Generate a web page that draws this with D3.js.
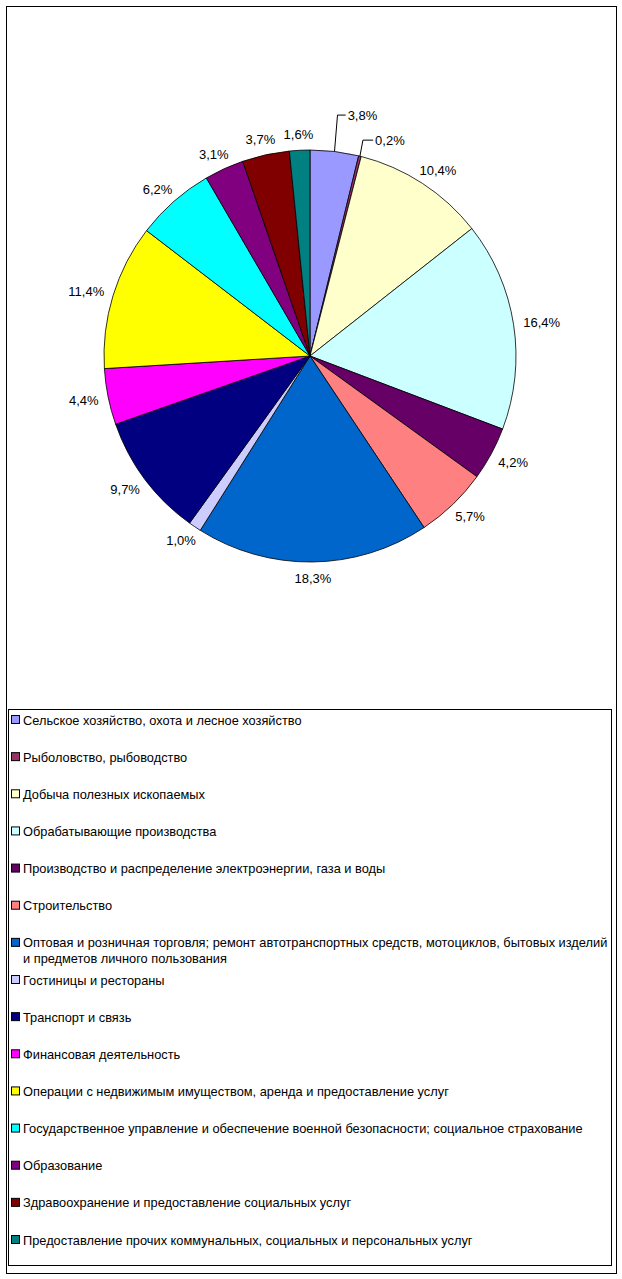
<!DOCTYPE html>
<html><head><meta charset="utf-8">
<script src="https://cdn.jsdelivr.net/npm/d3@7/dist/d3.min.js"></script>
<style>
html,body{margin:0;padding:0;background:#fff;}
svg{display:block;}
text{font-family:"Liberation Sans",Arial,sans-serif;}
</style></head>
<body>
<svg id="chart" width="622" height="1279"></svg>
<script>
const categories = [
  "Сельское хозяйство, охота и лесное хозяйство",
  "Рыболовство, рыбоводство",
  "Добыча полезных ископаемых",
  "Обрабатывающие производства",
  "Производство и распределение электроэнергии, газа и воды",
  "Строительство",
  "Оптовая и розничная торговля; ремонт автотранспортных средств, мотоциклов, бытовых изделий|и предметов личного пользования",
  "Гостиницы и рестораны",
  "Транспорт и связь",
  "Финансовая деятельность",
  "Операции с недвижимым имуществом, аренда и предоставление услуг",
  "Государственное управление и обеспечение военной безопасности; социальное страхование",
  "Образование",
  "Здравоохранение и предоставление социальных услуг",
  "Предоставление прочих коммунальных, социальных и персональных услуг"
];
const values = [3.8, 0.2, 10.4, 16.4, 4.2, 5.7, 18.3, 1.0, 9.7, 4.4, 11.4, 6.2, 3.1, 3.7, 1.6];
const labels = ["3,8%","0,2%","10,4%","16,4%","4,2%","5,7%","18,3%","1,0%","9,7%","4,4%","11,4%","6,2%","3,1%","3,7%","1,6%"];
const colors = ["#9999FF","#993366","#FFFFCC","#CCFFFF","#660066","#FF8080","#0066CC","#CCCCFF","#000080","#FF00FF","#FFFF00","#00FFFF","#800080","#800000","#008080"];

const svg = d3.select("#chart");
const FONT = 13, LEGEND_FONT = 12.8;

// outer frame
svg.append("rect").attr("x",6.5).attr("y",6.5).attr("width",610).attr("height",1267)
  .attr("fill","#fff").attr("stroke","#000").attr("stroke-width",1);

const cx = 310, cy = 356, R = 206;
const g = svg.append("g").attr("transform",`translate(${cx},${cy})`);
const pie = d3.pie().sort(null).value(d=>d);
const arcs = pie(values);
const arc = d3.arc().innerRadius(0).outerRadius(R);

g.selectAll("path.slice").data(arcs).enter().append("path")
  .attr("class","slice")
  .attr("d",arc)
  .attr("fill",(d,i)=>colors[i])
  .attr("stroke","#000").attr("stroke-width",0.8);

// labels
const gap = 10;
const moved = {0:[25,-20], 1:[24,0]};
arcs.forEach((d,i)=>{
  const a = (d.startAngle+d.endAngle)/2;
  const dx = Math.sin(a), dy = -Math.cos(a);
  const t = g.append("text").attr("font-size",FONT).attr("fill","#000")
    .attr("text-anchor","middle").attr("dominant-baseline","central").text(labels[i]);
  const w = t.node().getComputedTextLength(), h = 13;
  let lx = (R+gap)*dx + w/2*dx, ly = (R+gap)*dy + h/2*dy;
  if (moved[i]) {
    lx += moved[i][0]; ly += moved[i][1];
    const ax = R*dx, ay = R*dy;
    g.append("polyline").attr("fill","none").attr("stroke","#000").attr("stroke-width",1)
      .attr("points",[[ax,ay],[ax+3,ly],[lx-w/2-2,ly]].map(p=>p.join(",")).join(" "));
  }
  t.attr("x",lx).attr("y",ly+0.5);
});

// legend
const lg = svg.append("g");
lg.append("rect").attr("x",8.5).attr("y",709.5).attr("width",603).attr("height",556)
  .attr("fill","#fff").attr("stroke","#000").attr("stroke-width",1);
const rowY = d3.scaleLinear().domain([0,categories.length-1]).range([720,1240]);
categories.forEach((c,i)=>{
  const y = rowY(i);
  lg.append("rect").attr("x",11.5).attr("y",y-4.5).attr("width",8).attr("height",8)
    .attr("fill",colors[i]).attr("stroke","#000").attr("stroke-width",1);
  const parts = c.split("|");
  parts.forEach((p,k)=>{
    lg.append("text").attr("x",23).attr("y",y+k*16).attr("dominant-baseline","central")
      .attr("font-size",LEGEND_FONT).attr("fill","#000").text(p);
  });
});
</script>
</body></html>
